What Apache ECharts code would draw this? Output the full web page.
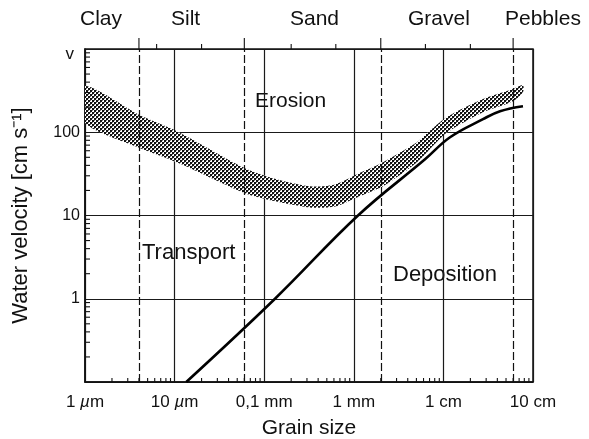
<!DOCTYPE html>
<html><head><meta charset="utf-8">
<script src="https://cdn.jsdelivr.net/npm/echarts@6/dist/echarts.min.js"></script>
<style>html,body{margin:0;padding:0;background:#fff}#c{width:589px;height:439px}</style>
</head><body><div id="c"></div>
<script>
// ---- data (grain size in µm, water velocity in cm/s) ----
const xTickLabels = ['1 {mu|µ}m', '10 {mu|µ}m', '0,1 mm', '1 mm', '1 cm', '10 cm']; // 10^0 .. 10^5 µm
const yTickLabels = ['', '1', '10', '100', '{v|v}'];                              // 10^-1 .. 10^3
const zoneNames = ['Clay', 'Silt', 'Sand', 'Gravel', 'Pebbles'];
const zoneBounds = [4, 60, 2000, 60000];          // dashed class boundaries (µm)
const subBounds = [6.3, 20, 200, 630, 6300, 20000]; // small top ticks (µm)
const regionNames = ['Erosion', 'Transport', 'Deposition'];

// erosion band (upper and lower edge)
const upperSize = [1, 3.9, 10.6, 58, 107, 324, 617, 1086, 2118, 5074, 6560, 10970, 27670, 59800, 77300];
const upperVel  = [358, 165, 103, 37.9, 29.5, 22.4, 23.6, 31.2, 43.5, 75.8, 97, 152, 250, 330, 368];
const lowerSize = [1, 3.9, 10.6, 58, 107, 324, 617, 1086, 2118, 5074, 10690, 27670, 59800, 77300];
const lowerVel  = [130, 66, 43.5, 18.9, 15.6, 12.5, 12.8, 16.5, 22.4, 43.5, 97, 174, 236, 303];

// deposition curve
const depSize = [13.5, 132, 1114, 6235, 11860, 27670, 42840, 77300];
const depVel  = [0.1, 1, 10, 47.3, 87, 143.5, 179, 205.6];

// ---- chart ----
const FONT = 'Liberation Sans, Arial, sans-serif';
function makePattern() {
  const c = document.createElement('canvas'); c.width = 4; c.height = 4;
  const g = c.getContext('2d');
  g.fillStyle = '#ffffff'; g.fillRect(0, 0, 4, 4);
  g.fillStyle = '#111111'; g.fillRect(0, 0, 2, 2); g.fillRect(2, 2, 2, 2);
  g.fillStyle = '#777777'; g.fillRect(2, 0, 1, 1); g.fillRect(0, 2, 1, 1);
  return c;
}
const pattern = { image: makePattern(), repeat: 'repeat' };
const chart = echarts.init(document.getElementById('c'), null, { renderer: 'canvas' });
const idx = v => Math.round(Math.log10(v));

const txt = (t, left, top, size) => ({ type: 'text', left, top,
  style: { text: t, fontSize: size, fontFamily: FONT, fill: '#111' } });

chart.setOption({
  backgroundColor: '#fff',
  animation: false,
  textStyle: { fontFamily: FONT, color: '#111' },
  grid: { left: 85, right: 56, top: 49, bottom: 57, containLabel: false, outerBoundsMode: 'none',
          show: true, borderColor: '#111', borderWidth: 1.5, backgroundColor: 'transparent' },
  xAxis: {
    type: 'log', logBase: 10, min: 1, max: 100000,
    name: 'Grain size', nameLocation: 'middle', nameGap: 36,
    nameTextStyle: { fontSize: 21, color: '#111', fontFamily: FONT },
    axisLine: { show: true, lineStyle: { color: '#111', width: 1.5 } },
    axisTick: { show: false },
    axisLabel: { margin: 12, fontSize: 17, color: '#111', fontFamily: FONT, hideOverlap: false,
      showMinLabel: true, showMaxLabel: true,
      formatter: v => xTickLabels[idx(v)] || '',
      rich: { mu: { fontStyle: 'italic', fontSize: 17, fontFamily: FONT, color: '#111' } } },
    splitLine: { show: true, lineStyle: { color: '#1a1a1a', width: 1.2, type: 'solid' } }
  },
  yAxis: {
    type: 'log', logBase: 10, min: 0.1, max: 1000,
    name: 'Water velocity [cm s⁻¹]', nameLocation: 'middle', nameGap: 53,
    nameTextStyle: { fontSize: 22, color: '#111', fontFamily: FONT },
    axisLine: { show: true, lineStyle: { color: '#111', width: 1.5 } },
    axisTick: { show: false },
    axisLabel: { margin: 5, fontSize: 16, color: '#111', fontFamily: FONT, hideOverlap: false,
      showMinLabel: true, showMaxLabel: true,
      formatter: v => yTickLabels[idx(v) + 1] || '',
      rich: { v: { fontSize: 17, fontFamily: FONT, color: '#111', padding: [10, 6, 0, 0] } } },
    splitLine: { show: true, lineStyle: { color: '#1a1a1a', width: 1.2, type: 'solid' } }
  },
  graphic: [
    txt(zoneNames[0], 80, 9, 21),
    txt(zoneNames[1], 171, 9, 21),
    txt(zoneNames[2], 290, 9, 21),
    txt(zoneNames[3], 408, 9, 21),
    txt(zoneNames[4], 505, 9, 21),
    txt(regionNames[0], 255, 91, 21),
    txt(regionNames[1], 142, 242, 22),
    txt(regionNames[2], 393, 264, 22)
  ],
  series: [
    {
      name: 'Erosion band', type: 'custom', clip: true, silent: true, z: 3,
      data: [[1, 1]],
      renderItem: (params, api) => {
        const pts = [];
        for (let i = 0; i < upperSize.length; i++) pts.push(api.coord([upperSize[i], upperVel[i]]));
        for (let i = lowerSize.length - 1; i >= 0; i--) pts.push(api.coord([lowerSize[i], lowerVel[i]]));
        return { type: 'polygon', shape: { points: pts, smooth: 0.25 }, style: { fill: pattern, stroke: null } };
      }
    },
    {
      name: 'Deposition', type: 'line', smooth: 0.4, showSymbol: false, symbol: 'none', z: 5,
      data: depSize.map((s, i) => [s, depVel[i]]),
      lineStyle: { color: '#000', width: 2.6 },
      markLine: {
        silent: true, symbol: 'none', label: { show: false },
        lineStyle: { color: '#111', width: 1.2, type: [8, 3] },
        data: zoneBounds.map(b => ({ xAxis: b }))
      }
    },
    {
      name: 'ticks', type: 'custom', clip: false, silent: true, z: 6,
      data: [[1, 1]],
      renderItem: (params, api) => {
        const ch = [];
        const ln = (x1, y1, x2, y2) => ch.push({ type: 'line', shape: { x1, y1, x2, y2 },
          style: { stroke: '#111', lineWidth: 1.1 } });
        for (let n = -1; n <= 2; n++) for (let k = 2; k <= 9; k++) {
          const p = api.coord([1, k * Math.pow(10, n)]); ln(p[0], p[1], p[0] + 5, p[1]);
        }
        for (let n = 0; n <= 4; n++) for (let k = 2; k <= 9; k++) {
          const p = api.coord([k * Math.pow(10, n), 0.1]); ln(p[0], p[1], p[0], p[1] - 4);
        }
        zoneBounds.forEach(b => { const p = api.coord([b, 1000]); ln(p[0], p[1], p[0], p[1] - 11); });
        subBounds.forEach(b => { const p = api.coord([b, 1000]); ln(p[0], p[1], p[0], p[1] - 5); });
        return { type: 'group', children: ch };
      }
    }
  ]
});
</script>
</body></html>
